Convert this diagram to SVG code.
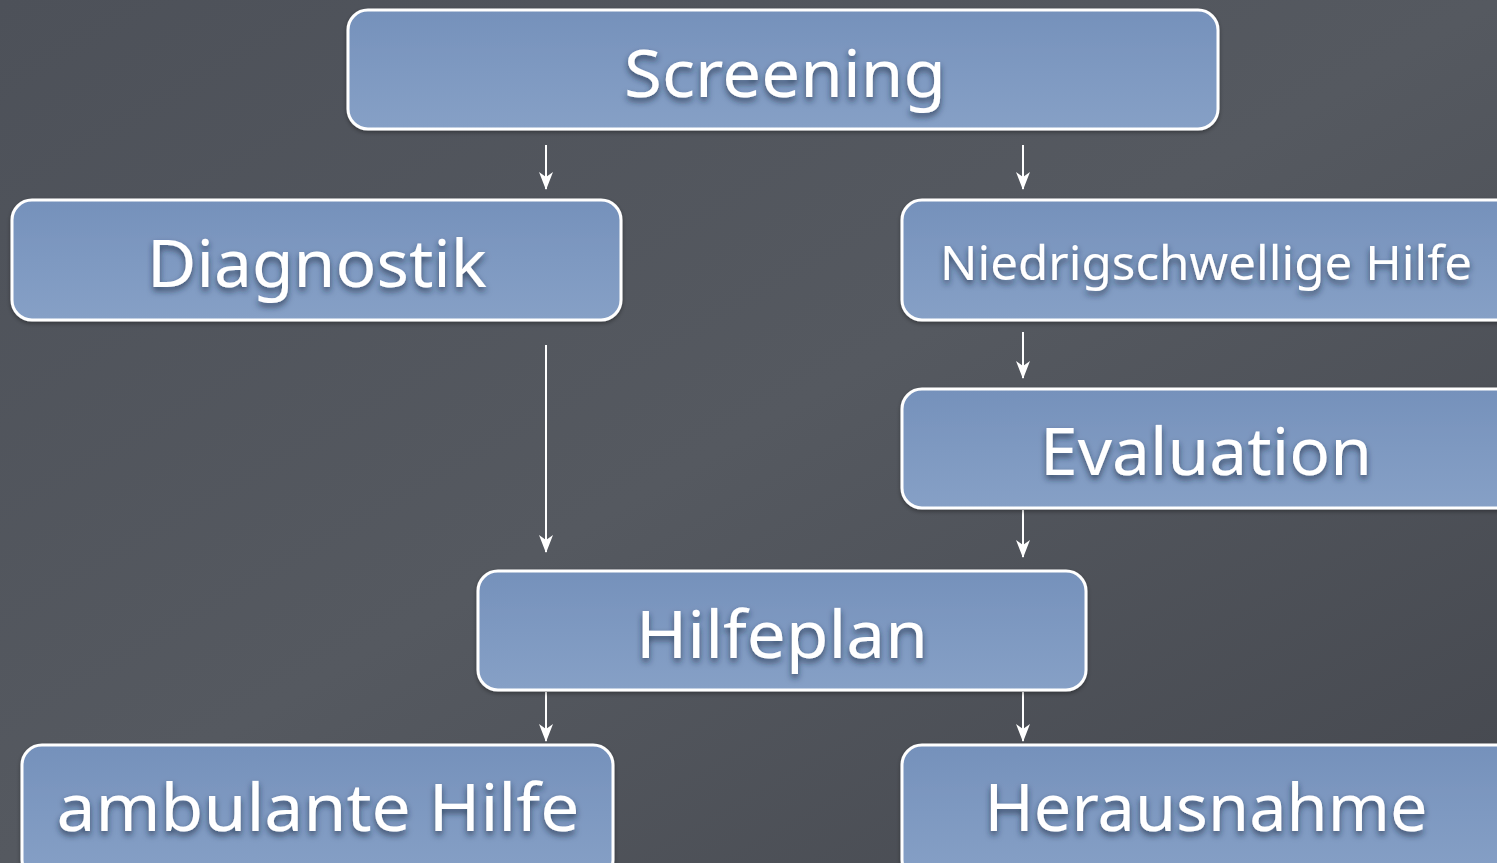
<svg xmlns="http://www.w3.org/2000/svg" width="1497" height="863" viewBox="0 0 1497 863">
<defs>
<linearGradient id="bg" x1="0" y1="0" x2="1" y2="1">
<stop offset="0" stop-color="#4d5159"/>
<stop offset="0.5" stop-color="#555960"/>
<stop offset="1" stop-color="#45484f"/>
</linearGradient>
<linearGradient id="boxfill" x1="0" y1="0" x2="0" y2="1">
<stop offset="0" stop-color="#7591bb"/>
<stop offset="0.5" stop-color="#7e99c1"/>
<stop offset="1" stop-color="#86a0c6"/>
</linearGradient>
<filter id="tshadow" x="-10%" y="-20%" width="120%" height="160%">
<feDropShadow dx="0" dy="4" stdDeviation="3" flood-color="#1e2a40" flood-opacity="0.7"/>
</filter>
<filter id="bshadow" x="-5%" y="-10%" width="110%" height="130%">
<feDropShadow dx="0" dy="2" stdDeviation="2" flood-color="#000" flood-opacity="0.35"/>
</filter>
<marker id="ah" viewBox="0 0 18 14" refX="17" refY="7" markerWidth="18" markerHeight="14" markerUnits="userSpaceOnUse" orient="auto">
<path d="M0,0 L5,7 L0,14 L18,7 Z" fill="#ffffff"/>
</marker>
</defs>
<style>
.box{fill:url(#boxfill);stroke:#ffffff;stroke-width:3;filter:url(#bshadow)}
.lbl{font-family:"Noto Sans","DejaVu Sans",sans-serif;fill:#ffffff;text-anchor:middle;filter:url(#tshadow)}
.conn{stroke:#ffffff;stroke-width:2;fill:none;marker-end:url(#ah)}
</style>
<rect x="0" y="0" width="1497" height="863" fill="url(#bg)"/>
<g id="connectors">
<line class="conn" x1="546" y1="145" x2="546" y2="189"/>
<line class="conn" x1="1023" y1="145" x2="1023" y2="189"/>
<line class="conn" x1="546" y1="345" x2="546" y2="552"/>
<line class="conn" x1="1023" y1="332" x2="1023" y2="378"/>
<line class="conn" x1="1023" y1="510" x2="1023" y2="557"/>
<line class="conn" x1="546" y1="692" x2="546" y2="741"/>
<line class="conn" x1="1023" y1="692" x2="1023" y2="741"/>
</g>
<g id="screening">
<rect class="box" x="348" y="10" width="870" height="119" rx="20"/>
<text class="lbl" x="785" y="97" font-size="66" textLength="322" lengthAdjust="spacingAndGlyphs">Screening</text>
</g>
<g id="diagnostik">
<rect class="box" x="12" y="200" width="609" height="120" rx="20"/>
<text class="lbl" x="317" y="287" font-size="66" textLength="340" lengthAdjust="spacingAndGlyphs">Diagnostik</text>
</g>
<g id="niedrigschwellige">
<rect class="box" x="902" y="200" width="620" height="120" rx="20"/>
<text class="lbl" x="1206" y="280" font-size="48" textLength="532" lengthAdjust="spacingAndGlyphs">Niedrigschwellige Hilfe</text>
</g>
<g id="evaluation">
<rect class="box" x="902" y="389" width="620" height="119" rx="20"/>
<text class="lbl" x="1206" y="475" font-size="66" textLength="332" lengthAdjust="spacingAndGlyphs">Evaluation</text>
</g>
<g id="hilfeplan">
<rect class="box" x="478" y="571" width="608" height="119" rx="20"/>
<text class="lbl" x="782" y="658" font-size="66" textLength="292" lengthAdjust="spacingAndGlyphs">Hilfeplan</text>
</g>
<g id="ambulante">
<rect class="box" x="22" y="745" width="591" height="135" rx="20"/>
<text class="lbl" x="318" y="831" font-size="66" textLength="523" lengthAdjust="spacingAndGlyphs">ambulante Hilfe</text>
</g>
<g id="herausnahme">
<rect class="box" x="902" y="745" width="620" height="135" rx="20"/>
<text class="lbl" x="1206" y="831" font-size="66" textLength="443" lengthAdjust="spacingAndGlyphs">Herausnahme</text>
</g>
</svg>
